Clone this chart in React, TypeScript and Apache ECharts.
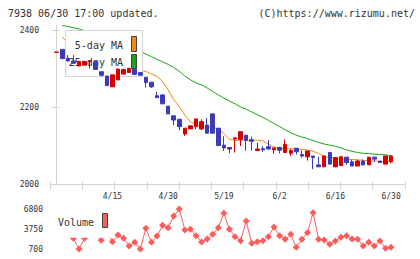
import React, { useEffect, useRef } from "react";
import * as echarts from "echarts";

// Daily prices, one entry per trading day (index 0 .. 60)
const opens = [
  2342, 2350, 2327, 2320, 2307, 2309, 2318, 2318, 2292, 2281,
  2253, 2271, 2286, 2290, 2299, 2290, 2278, 2265, 2230, 2232,
  2203, 2178, 2169, 2131, 2144, 2150, 2144, 2154, 2183, 2146,
  2102, 2096, 2118, 2117, 2128, 2116, 2088, 2093, 2098, 2090,
  2096, 2083, 2081, 2094, 2078, 2072, 2074, 2051, 2046, 2083,
  2046, 2049, 2071, 2059, 2048, 2061, 2051, 2071, 2061, 2053,
  2059,
];
const closes = [
  2343, 2326, 2320, 2314, 2319, 2319, 2320, 2298, 2283, 2256,
  2284, 2299, 2298, 2301, 2285, 2283, 2264, 2253, 2225, 2209,
  2183, 2167, 2150, 2146, 2152, 2170, 2163, 2133, 2133, 2101,
  2095, 2092, 2121, 2137, 2114, 2112, 2092, 2090, 2092, 2095,
  2089, 2104, 2088, 2085, 2074, 2087, 2070, 2046, 2074, 2053,
  2070, 2072, 2057, 2048, 2061, 2051, 2071, 2066, 2057, 2074,
  2074,
];
const lows = [
  2342, 2326, 2318, 2313, 2307, 2309, 2300, 2298, 2280, 2256,
  2253, 2271, 2286, 2290, 2285, 2283, 2251, 2250, 2225, 2209,
  2183, 2154, 2141, 2126, 2144, 2144, 2141, 2133, 2133, 2101,
  2087, 2081, 2083, 2100, 2088, 2088, 2088, 2085, 2092, 2080,
  2081, 2082, 2074, 2078, 2070, 2062, 2040, 2046, 2046, 2053,
  2045, 2049, 2051, 2048, 2048, 2051, 2051, 2059, 2057, 2053,
  2055,
];
const highs = [
  2343, 2350, 2335, 2335, 2319, 2319, 2321, 2318, 2292, 2281,
  2284, 2299, 2298, 2301, 2299, 2290, 2278, 2265, 2240, 2234,
  2203, 2178, 2169, 2146, 2152, 2170, 2169, 2172, 2183, 2146,
  2125, 2097, 2121, 2137, 2128, 2124, 2108, 2100, 2115, 2095,
  2098, 2117, 2092, 2094, 2088, 2087, 2074, 2072, 2074, 2083,
  2070, 2072, 2071, 2064, 2065, 2065, 2071, 2071, 2061, 2074,
  2074,
];

// Moving averages
const ma5 = [
  null, 2382, 2365, 2348, 2333, 2322, 2318, 2315, 2306, 2296,
  2290, 2288, 2289, 2292, 2295, 2295, 2293, 2286, 2280, 2267,
  2245, 2220, 2202, 2180, 2163, 2153, 2152, 2150, 2148, 2144,
  2132, 2118, 2114, 2115, 2115, 2115, 2115, 2113, 2105, 2097,
  2094, 2093, 2093, 2092, 2091, 2090, 2086, 2081, 2073, 2070,
  2068, 2066, 2065, 2065, 2064, 2063, 2062, 2061, 2060, 2059,
  2062,
];
const ma25 = [
  null, 2412, 2409, 2406, 2403, 2398, 2393, 2388, 2382, 2377,
  2371, 2366, 2360, 2355, 2349, 2343, 2338, 2331, 2324, 2318,
  2311, 2303, 2293, 2281, 2271, 2263, 2258, 2250, 2241, 2232,
  2224, 2216, 2209, 2201, 2195, 2188, 2181, 2174, 2166, 2158,
  2150, 2142, 2134, 2128, 2123, 2119, 2114, 2109, 2105, 2102,
  2099, 2095, 2090, 2086, 2083, 2081, 2080, 2079, 2078, 2077,
  2075,
];

// Daily volume
const volumes = [
  3600, 4300, 3900, 2330, 700, 2330, 3300, 3000, 2030, 3300,
  1810, 2835, 2330, 1160, 1720, 700, 3860, 1720, 2680, 4310,
  3950, 5730, 6800, 3600, 3700, 2730, 1770, 2230, 2940, 3950,
  6140, 3700, 2580, 1970, 4970, 1570, 1810, 1970, 2580, 4060,
  2730, 2180, 2940, 960, 2180, 3190, 6240, 2180, 2070, 1420,
  1920, 2480, 2730, 2230, 2180, 1160, 1720, 1160, 1920, 800,
  960,
];

// Date labels and the day index they belong to
const dateLabels = ["4/15", "4/30", "5/19", "6/2", "6/16", "6/30"];
const dateLabelIndex = [10, 20, 30, 40, 50, 60];

const priceTicks = [2000, 2200, 2400];
const volumeTicks = [700, 3750, 6800];

const FONT = '"DejaVu Sans Mono", monospace';
const AXIS_GRAY = "#d4d4d4";
const TEXT = "#333";
const UP = "#d40000";
const DOWN = "#3c3cb8";
const ORANGE = "#f08c14";
const GREEN = "#18a418";
const VOL = "#ff5b5b";

const X_MIN = -1.2;
const X_MAX = 62.5;
const xTickValues = Array.from({ length: 12 }, (_, k) => X_MIN + (k * (X_MAX - X_MIN)) / 11);

const plain = (v: number) => String(Math.round(v));

export default function App() {
  const ref = useRef<HTMLDivElement>(null);

  useEffect(() => {
    if (!ref.current) return;
    const chart = echarts.init(ref.current, null, { renderer: "svg" });

    const candleData = opens.map((o, i) => [i, o, closes[i], lows[i], highs[i]]);
    const ma5Data = ma5.map((v, i) => [i, v == null ? "-" : v]);
    const ma25Data = ma25.map((v, i) => [i, v == null ? "-" : v]);
    const volData = volumes.map((v, i) => [i, v]);

    const lineStyle = { color: AXIS_GRAY, width: 1 };

    chart.setOption({
      animation: false,
      backgroundColor: "#fff",
      grid: [
        { left: 50, right: 15, top: 25, bottom: 74.4 },
        { left: 50, right: 15, top: 209, height: 40 },
      ],
      xAxis: [
        {
          type: "value",
          gridIndex: 0,
          min: X_MIN,
          max: X_MAX,
          position: "bottom",
          axisLine: { show: true, lineStyle },
          axisTick: { show: true, length: 5, customValues: xTickValues, lineStyle },
          axisLabel: {
            show: true,
            customValues: dateLabelIndex,
            formatter: (v: number) => {
              const k = dateLabelIndex.indexOf(Math.round(v));
              return k >= 0 ? dateLabels[k] : "";
            },
            fontFamily: FONT,
            fontSize: 8,
            color: TEXT,
            margin: 8,
          },
          splitLine: { show: false },
        },
        {
          type: "value",
          gridIndex: 0,
          min: X_MIN,
          max: X_MAX,
          position: "bottom",
          axisLine: { show: false },
          axisTick: { show: true, inside: true, length: 3, customValues: xTickValues, lineStyle },
          axisLabel: { show: false },
          splitLine: { show: false },
        },
        {
          type: "value",
          gridIndex: 1,
          min: X_MIN,
          max: X_MAX,
          show: false,
        },
      ],
      yAxis: [
        {
          type: "value",
          gridIndex: 0,
          min: 2000,
          max: 2413,
          position: "left",
          axisLine: { show: true, lineStyle },
          axisTick: { show: true, length: 5, customValues: priceTicks, lineStyle },
          axisLabel: {
            customValues: priceTicks,
            formatter: plain,
            fontFamily: FONT,
            fontSize: 8,
            color: TEXT,
            margin: 11,
          },
          splitLine: { show: false },
        },
        {
          type: "value",
          gridIndex: 0,
          min: 2000,
          max: 2413,
          position: "left",
          axisLine: { show: false },
          axisTick: { show: true, inside: true, length: 3, customValues: priceTicks, lineStyle },
          axisLabel: { show: false },
          splitLine: { show: false },
        },
        {
          type: "value",
          gridIndex: 1,
          min: 700,
          max: 6800,
          axisLine: { show: false },
          axisTick: { show: false },
          axisLabel: {
            customValues: volumeTicks,
            formatter: plain,
            fontFamily: FONT,
            fontSize: 8,
            color: TEXT,
            margin: 7,
          },
          splitLine: { show: false },
        },
      ],
      series: [
        {
          name: "5-day MA",
          type: "line",
          xAxisIndex: 0,
          yAxisIndex: 0,
          data: ma5Data,
          showSymbol: false,
          lineStyle: { color: ORANGE, width: 1 },
          z: 1,
        },
        {
          name: "25-day MA",
          type: "line",
          xAxisIndex: 0,
          yAxisIndex: 0,
          data: ma25Data,
          showSymbol: false,
          lineStyle: { color: GREEN, width: 1 },
          z: 1,
        },
        {
          name: "Price",
          type: "candlestick",
          xAxisIndex: 0,
          yAxisIndex: 0,
          data: candleData,
          barWidth: 4,
          itemStyle: {
            color: UP,
            color0: DOWN,
            borderColor: UP,
            borderColor0: DOWN,
            borderWidth: 1,
          },
          z: 5,
        },
        {
          name: "Volume",
          type: "line",
          xAxisIndex: 2,
          yAxisIndex: 2,
          data: volData,
          symbol: "diamond",
          symbolSize: 7,
          itemStyle: { color: VOL },
          lineStyle: { color: VOL, width: 1 },
          z: 2,
        },
      ],
      graphic: [
        {
          type: "text",
          x: 8,
          y: 13,
          style: { text: "7938 06/30 17:00 updated.", font: `10px ${FONT}`, fill: TEXT, verticalAlign: "middle" },
        },
        {
          type: "text",
          x: 415,
          y: 13,
          style: { text: "(C)https://www.rizumu.net/", font: `10px ${FONT}`, fill: TEXT, align: "right", verticalAlign: "middle" },
        },
        // price legend box: hides the average lines, candles stay on top
        {
          type: "rect",
          z: 3,
          shape: { x: 65.5, y: 30.5, width: 77, height: 46 },
          style: { fill: "#fff", stroke: AXIS_GRAY, lineWidth: 1 },
        },
        {
          type: "text",
          z: 3,
          x: 123,
          y: 45,
          style: { text: "5-day MA", font: `10px ${FONT}`, fill: TEXT, align: "right", verticalAlign: "middle" },
        },
        {
          type: "rect",
          z: 3,
          shape: { x: 131.5, y: 36.5, width: 5, height: 15 },
          style: { fill: ORANGE, stroke: "#444", lineWidth: 1 },
        },
        {
          type: "text",
          z: 3,
          x: 123,
          y: 62,
          style: { text: "25-day MA", font: `10px ${FONT}`, fill: TEXT, align: "right", verticalAlign: "middle" },
        },
        {
          type: "rect",
          z: 3,
          shape: { x: 131.5, y: 54.5, width: 5, height: 14 },
          style: { fill: GREEN, stroke: "#444", lineWidth: 1 },
        },
        // volume legend with its own white backing
        {
          type: "rect",
          z: 10,
          shape: { x: 50, y: 204, width: 61, height: 33.8 },
          style: { fill: "#fff" },
        },
        {
          type: "text",
          z: 11,
          x: 94,
          y: 222,
          style: { text: "Volume", font: `10px ${FONT}`, fill: TEXT, align: "right", verticalAlign: "middle" },
        },
        {
          type: "rect",
          z: 11,
          shape: { x: 102.5, y: 213.5, width: 5, height: 14 },
          style: { fill: VOL, stroke: "#444", lineWidth: 1 },
        },
      ],
    });

    return () => chart.dispose();
  }, []);

  return (
    <div
      ref={ref}
      style={{ position: "fixed", left: 0, top: 0, width: 420, height: 259, background: "#fff" }}
    />
  );
}
